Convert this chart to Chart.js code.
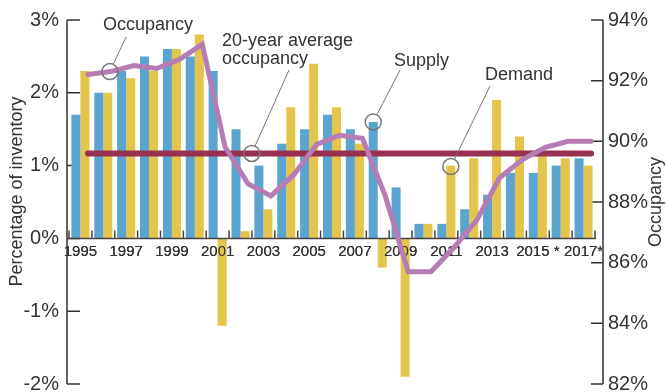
<!DOCTYPE html>
<html>
<head>
<meta charset="utf-8">
<script src="https://cdn.jsdelivr.net/npm/chart.js@4.4.0/dist/chart.umd.min.js"></script>
<style>
  html, body { margin: 0; padding: 0; background: #fff; }
  canvas { display: block; }
</style>
</head>
<body>
<canvas id="occupancyChart" width="666" height="392"></canvas>
<script>
// Data
const years = ['1995', '1996', '1997', '1998', '1999', '2000', '2001', '2002', '2003', '2004', '2005', '2006',
  '2007', '2008', '2009', '2010', '2011', '2012', '2013', '2014', '2015', '2016', '2017'];
const yearLabels = ['1995', '', '1997', '', '1999', '', '2001', '', '2003', '', '2005', '',
  '2007', '', '2009', '', '2011', '', '2013', '', '2015 *', '', '2017*'];
const supply = [1.7, 2.0, 2.3, 2.5, 2.6, 2.5, 2.3, 1.5, 1.0, 1.3, 1.5, 1.7, 1.5, 1.6, 0.7, 0.2, 0.2, 0.4, 0.6, 0.9, 0.9, 1.0, 1.1];
const demand = [2.3, 2.0, 2.2, 2.3, 2.6, 2.8, -1.2, 0.1, 0.4, 1.8, 2.4, 1.8, 1.3, -0.4, -1.9, 0.2, 1.0, 1.1, 1.9, 1.4, 1.2, 1.1, 1.0];
const occupancy = [92.2, 92.3, 92.5, 92.4, 92.7, 93.2, 89.8, 88.6, 88.2, 88.9, 89.9, 90.2, 90.1, 88.2, 85.7, 85.7, 86.5, 87.4, 88.8, 89.4, 89.8, 90.0, 90.0];
const averageOccupancy = 89.6;

const blue = '#5BA4CF';
const yellow = '#E5C44C';
const purple = '#B67DB5';
const wine = '#983052';
const ink = '#333333';
const narrow = "'Liberation Sans Narrow', 'Arial Narrow', sans-serif";
const sans = "'Liberation Sans', Arial, sans-serif";

// occupancy lines are plotted a third of a year right of the bar groups
const lineShift = 0.33;

function zeroPadding(scale) {
  scale.paddingTop = 0;
  scale.paddingBottom = 0;
  scale.paddingLeft = 0;
  scale.paddingRight = 0;
}

function yearStep(chart) {
  const x = chart.scales.x;
  return x.getPixelForValue(1) - x.getPixelForValue(0);
}

// axis lines with inward ticks, the zero baseline and the callouts
const framePlugin = {
  id: 'frame',
  beforeDatasetsDraw(chart) {
    const { ctx, chartArea, scales } = chart;
    const leftX = chartArea.left - 2;
    const rightX = chartArea.right + 8;
    ctx.save();
    ctx.strokeStyle = ink;
    ctx.lineWidth = 1.5;
    ctx.beginPath();
    ctx.moveTo(leftX, scales.y.top);
    ctx.lineTo(leftX, scales.y.bottom);
    scales.y.ticks.forEach(t => {
      const py = scales.y.getPixelForValue(t.value);
      ctx.moveTo(leftX, py);
      ctx.lineTo(leftX + 13, py);
    });
    ctx.moveTo(rightX, scales.y2.top);
    ctx.lineTo(rightX, scales.y2.bottom);
    scales.y2.ticks.forEach(t => {
      const py = scales.y2.getPixelForValue(t.value);
      ctx.moveTo(rightX, py);
      ctx.lineTo(rightX - 12, py);
    });
    ctx.stroke();
    ctx.restore();
  },
  beforeDatasetDraw(chart, args) {
    const { ctx, chartArea, scales } = chart;
    if (args.meta.type !== 'line') return;
    if (args.index === 2) {
      // baseline and year labels go over the bars but under the lines
      const x = scales.x;
      const y0 = scales.y.getPixelForValue(0);
      const step = yearStep(chart);
      ctx.save();
      ctx.strokeStyle = '#444';
      ctx.lineWidth = 1.5;
      ctx.beginPath();
      ctx.moveTo(chartArea.left - 2, y0);
      ctx.lineTo(x.getPixelForValue(years.length - 1) + step / 2 + 1, y0);
      for (let i = 0; i <= years.length; i++) {
        const bx = x.getPixelForValue(0) - step / 2 + i * step;
        ctx.moveTo(bx, y0);
        ctx.lineTo(bx, y0 - 8);
      }
      ctx.stroke();
      ctx.restore();
      try {
        x.drawLabels(chartArea);
      } catch (e) {
        // labels were already drawn with the axis
      }
    }
    ctx.save();
    ctx.translate(lineShift * yearStep(chart), 0);
  },
  afterDatasetDraw(chart, args) {
    if (args.meta.type === 'line') chart.ctx.restore();
  },
  afterDraw(chart) {
    const { ctx, scales } = chart;
    const shift = lineShift * yearStep(chart);
    const supplyBar = chart.getDatasetMeta(0).data[years.indexOf('2008')];
    const demandBar = chart.getDatasetMeta(1).data[years.indexOf('2011')];
    const occPoint = chart.getDatasetMeta(3).data[1];
    const callouts = [
      { lines: ['Occupancy'], tx: 103, ty: 30, tip: [126, 37], at: [occPoint.x + shift - 1, occPoint.y] },
      { lines: ['20-year average', 'occupancy'], tx: 222, ty: 46, tip: [289, 70],
        at: [scales.x.getPixelForValue(7) + 0.49 * yearStep(chart), scales.y2.getPixelForValue(averageOccupancy)] },
      { lines: ['Supply'], tx: 394, ty: 66, tip: [400, 70], at: [supplyBar.x, supplyBar.y] },
      { lines: ['Demand'], tx: 485, ty: 80, tip: [490, 86], at: [demandBar.x, demandBar.y + 1] }
    ];
    const r = 8;
    ctx.save();
    callouts.forEach(c => {
      const [cx, cy] = c.at;
      const dx = c.tip[0] - cx, dy = c.tip[1] - cy;
      const len = Math.hypot(dx, dy);
      ctx.strokeStyle = '#777';
      ctx.lineWidth = 1;
      ctx.beginPath();
      ctx.moveTo(cx + dx / len * r, cy + dy / len * r);
      ctx.lineTo(c.tip[0], c.tip[1]);
      ctx.stroke();
      ctx.lineWidth = 1.5;
      ctx.beginPath();
      ctx.arc(cx, cy, r, 0, Math.PI * 2);
      ctx.stroke();
      ctx.fillStyle = ink;
      ctx.font = '18px ' + sans;
      ctx.textAlign = 'left';
      ctx.textBaseline = 'alphabetic';
      c.lines.forEach((t, i) => ctx.fillText(t, c.tx, c.ty + i * 18));
    });

    // axis titles, both reading bottom to top
    ctx.fillStyle = ink;
    ctx.font = '18px ' + sans;
    ctx.textAlign = 'center';
    ctx.translate(21.5, 191.5);
    ctx.rotate(-Math.PI / 2);
    ctx.fillText('Percentage of inventory', 0, 0);
    ctx.setTransform(1, 0, 0, 1, 0, 0);
    ctx.translate(661, 202);
    ctx.rotate(-Math.PI / 2);
    ctx.fillText('Occupancy', 0, 0);
    ctx.restore();
  }
};

const ctx = document.getElementById('occupancyChart').getContext('2d');
new Chart(ctx, {
  type: 'bar',
  data: {
    labels: years,
    datasets: [
      {
        label: 'Supply',
        data: supply,
        backgroundColor: blue,
        yAxisID: 'y',
        categoryPercentage: 0.79,
        barPercentage: 1.0,
        order: 3
      },
      {
        label: 'Demand',
        data: demand,
        backgroundColor: yellow,
        yAxisID: 'y',
        categoryPercentage: 0.79,
        barPercentage: 1.0,
        order: 3
      },
      {
        type: 'line',
        label: '20-year average occupancy',
        data: years.map(() => averageOccupancy),
        yAxisID: 'y2',
        borderColor: wine,
        borderWidth: 6,
        borderCapStyle: 'round',
        pointRadius: 0,
        order: 2
      },
      {
        type: 'line',
        label: 'Occupancy',
        data: occupancy,
        yAxisID: 'y2',
        borderColor: purple,
        borderWidth: 5,
        borderCapStyle: 'round',
        borderJoinStyle: 'miter',
        tension: 0,
        pointRadius: 0,
        order: 1
      }
    ]
  },
  options: {
    responsive: false,
    animation: false,
    devicePixelRatio: 1,
    layout: { padding: { top: 20, bottom: 8, left: 0, right: 0 } },
    plugins: {
      legend: { display: false },
      tooltip: { enabled: false }
    },
    scales: {
      x: {
        type: 'category',
        position: { y: 0 },
        offset: true,
        grid: { display: false, drawTicks: false },
        border: { display: false },
        ticks: {
          autoSkip: false,
          maxRotation: 0,
          minRotation: 0,
          padding: 4,
          color: ink,
          font: { family: narrow, size: 15 },
          callback: (v, i) => yearLabels[i]
        },
        afterFit: zeroPadding
      },
      y: {
        position: 'left',
        min: -2,
        max: 3,
        grid: { display: false, drawTicks: false },
        border: { display: false },
        ticks: {
          stepSize: 1,
          padding: 10,
          color: ink,
          font: { family: narrow, size: 20 },
          callback: v => v + '%'
        },
        afterFit: s => { zeroPadding(s); s.width = 69; }
      },
      y2: {
        position: 'right',
        min: 82,
        max: 94,
        grid: { display: false, drawTicks: false },
        border: { display: false },
        ticks: {
          stepSize: 2,
          padding: 13,
          color: ink,
          font: { family: narrow, size: 20 },
          callback: v => v + '%'
        },
        afterFit: s => { zeroPadding(s); s.width = 71; }
      }
    }
  },
  plugins: [framePlugin]
});
</script>
</body>
</html>
